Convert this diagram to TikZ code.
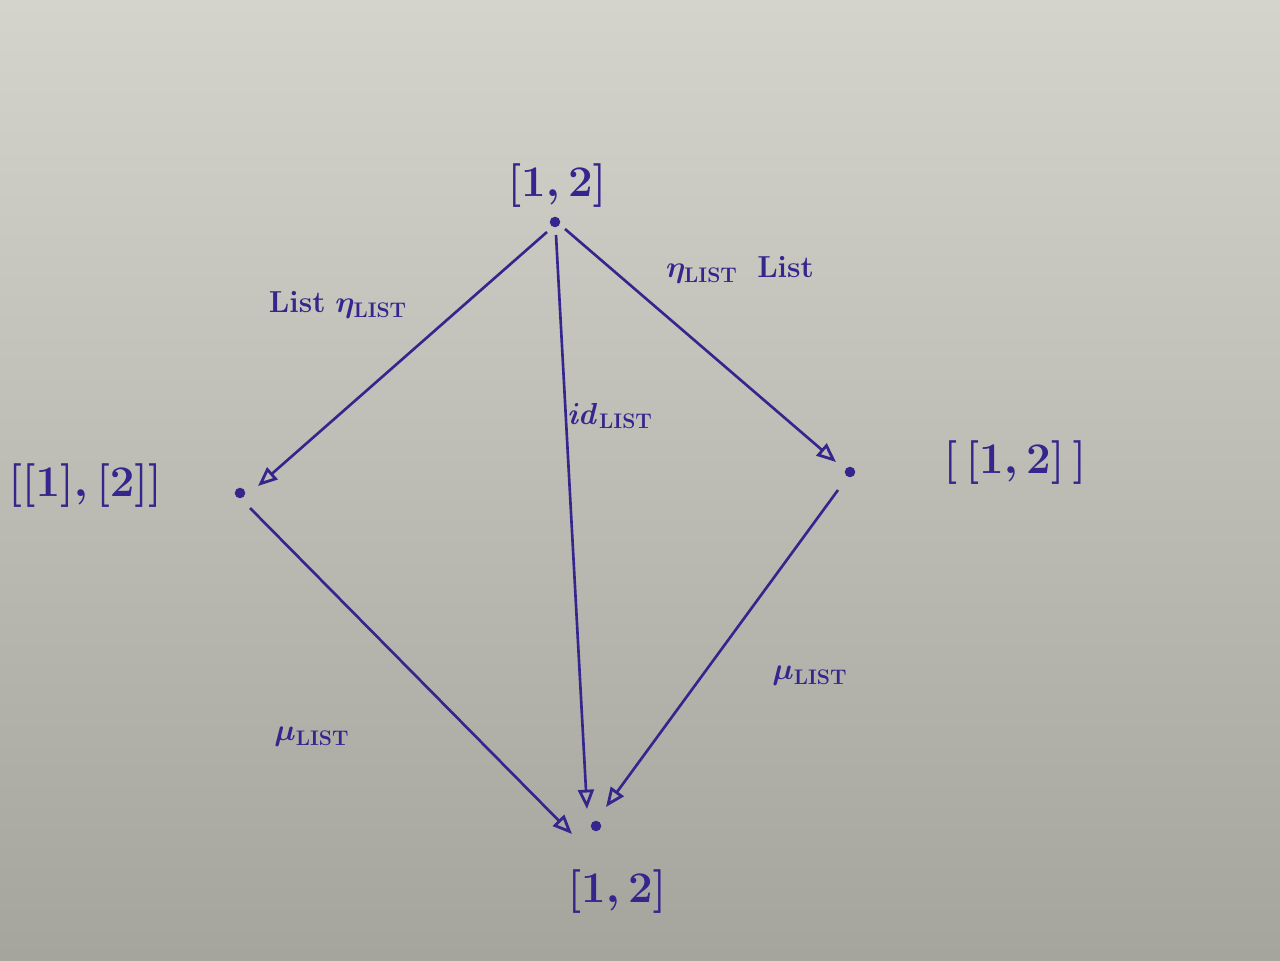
\documentclass[tikz,border=0pt]{standalone}
\usetikzlibrary{arrows.meta,calc}
\definecolor{ink}{RGB}{52,38,140}
\definecolor{papertop}{RGB}{212,212,204}
\definecolor{papermid}{RGB}{206,206,198}
\definecolor{paperbot}{RGB}{165,165,157}
\tikzset{
  dot/.style={circle,fill=ink,inner sep=0pt,minimum size=6pt},
  obj/.style={text=ink,font=\fontsize{24}{28}\selectfont\boldmath},
  lbl/.style={text=ink,font=\fontsize{18}{22}\selectfont\boldmath},
  arr/.style={draw=ink,line width=1.5pt,-{Triangle[open,length=11pt,width=9pt,line width=1.6pt]}},
}
\begin{document}
\begin{tikzpicture}[x=0.02cm,y=-0.02cm]
\shade[top color=papertop,middle color=papermid,bottom color=paperbot] (0,0) rectangle (1280,960);
\useasboundingbox (0,0) rectangle (1280,960);
% objects
\node[dot] (T) at (555,222) {};
\node[dot] (L) at (240,493) {};
\node[dot] (R) at (850,472) {};
\node[dot] (B) at (596,826) {};
\node[obj] (Tl) at (557,186) {$[1,2]$};
\node[obj,anchor=west,inner sep=0pt] (Ll) at (8,486) {$[[1],[2]]$};
\node[obj] (Rl) at (1015,463) {$[\,[1,2]\,]$};
\node[obj] (Bl) at (617,892) {$[1,2]$};
% arrow end points
\coordinate (TLs) at ($(T)+(-8,10)$);
\coordinate (TLe) at ($(L)+(18,-7)$);
\coordinate (TRs) at ($(T)+(10,7)$);
\coordinate (TRe) at ($(R)+(-14,-10)$);
\coordinate (TBs) at ($(T)+(1,13)$);
\coordinate (TBe) at ($(B)+(-9,-17)$);
\coordinate (LBs) at ($(L)+(10,15)$);
\coordinate (LBe) at ($(B)+(-24,8)$);
\coordinate (RBs) at ($(R)+(-12,18)$);
\coordinate (RBe) at ($(B)+(10,-19)$);
% arrows
\draw[arr] (TLs) -- (TLe);
\draw[arr] (TRs) -- (TRe);
\draw[arr] (TBs) -- (TBe);
\draw[arr] (LBs) -- (LBe);
\draw[arr] (RBs) -- (RBe);
% labels
\node[lbl] (a1) at (338,305) {$\mathrm{List}\;\eta_{\mathrm{LIST}}$};
\node[lbl] (a2) at (740,270) {$\eta_{\mathrm{LIST}}\;\;\mathrm{List}$};
\node[lbl] (a3) at (610,416) {$\mathit{id}_{\mathrm{LIST}}$};
\node[lbl] (a4) at (312,737) {$\mu_{\mathrm{LIST}}$};
\node[lbl] (a5) at (810,676) {$\mu_{\mathrm{LIST}}$};
\end{tikzpicture}
\end{document}
